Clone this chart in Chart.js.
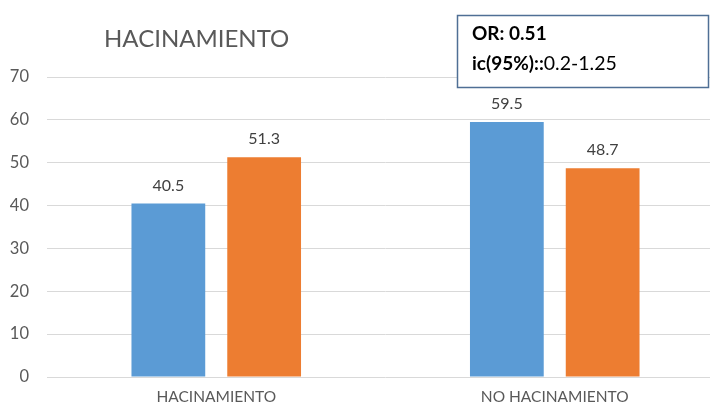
<!DOCTYPE html>
<html>
<head>
<meta charset="utf-8">
<script src="https://cdn.jsdelivr.net/npm/chart.js@4"></script>
<style>
  html, body { margin: 0; padding: 0; background: #fff; overflow: hidden; }
  #wrap { width: 710px; height: 407px; overflow: hidden; }
</style>
</head>
<body>
<div id="wrap"><canvas id="grafica" width="725" height="407"></canvas></div>
<script>
// datos
const categorias = ['HACINAMIENTO', 'NO HACINAMIENTO'];
const serieAzul = [40.5, 59.5];
const serieNaranja = [51.3, 48.7];
const tituloTexto = 'HACINAMIENTO';
const cuadroLinea1 = 'OR: 0.51';
const cuadroLinea2Negrita = 'ic(95%)::';
const cuadroLinea2 = '0.2-1.25';

const fuente = 'Lato, "Open Sans", sans-serif';

// etiquetas de valor encima de cada barra
const etiquetasValor = {
  id: 'etiquetasValor',
  afterDatasetsDraw(chart) {
    const ctx = chart.ctx;
    ctx.save();
    ctx.fillStyle = '#404040';
    ctx.font = '16px ' + fuente;
    ctx.textAlign = 'center';
    ctx.textBaseline = 'bottom';
    chart.data.datasets.forEach((ds, i) => {
      chart.getDatasetMeta(i).data.forEach((bar, j) => {
        ctx.fillText(ds.data[j].toFixed(1), bar.x, bar.y - 10);
      });
    });
    ctx.restore();
  }
};

// titulo y cuadro de OR
const decoracion = {
  id: 'decoracion',
  afterDraw(chart) {
    const ctx = chart.ctx;
    ctx.save();
    ctx.fillStyle = '#595959';
    ctx.font = '24px ' + fuente;
    ctx.textAlign = 'left';
    ctx.textBaseline = 'middle';
    ctx.fillText(tituloTexto, 104, 39);

    ctx.fillStyle = '#fff';
    ctx.fillRect(457.5, 15.5, 251, 72);
    ctx.strokeStyle = '#4f6f95';
    ctx.lineWidth = 1.5;
    ctx.strokeRect(457.5, 15.5, 251, 72);

    ctx.fillStyle = '#000';
    ctx.font = 'bold 19px ' + fuente;
    ctx.fillText(cuadroLinea1, 472, 34);
    ctx.fillText(cuadroLinea2Negrita, 472, 64);
    const w = ctx.measureText(cuadroLinea2Negrita).width;
    ctx.font = '19.5px ' + fuente;
    ctx.fillText(cuadroLinea2, 472 + w, 64);
    ctx.restore();
  }
};

new Chart(document.getElementById('grafica'), {
  type: 'bar',
  data: {
    labels: categorias,
    datasets: [
      { data: serieAzul, backgroundColor: '#5B9BD5', categoryPercentage: 0.566, barPercentage: 0.77 },
      { data: serieNaranja, backgroundColor: '#ED7D31', categoryPercentage: 0.566, barPercentage: 0.77 }
    ]
  },
  options: {
    responsive: false,
    animation: false,
    layout: { padding: { top: 77, right: 1, left: 0, bottom: 0 } },
    plugins: { legend: { display: false }, tooltip: { enabled: false }, title: { display: false } },
    scales: {
      x: {
        grid: { display: false, drawTicks: false },
        border: { display: false },
        ticks: { color: '#595959', font: { family: fuente, size: 15.5 }, padding: 11 },
        afterFit(axis) { axis.height = 30; }
      },
      y: {
        min: 0, max: 70,
        grid: { color: '#d9d9d9', drawTicks: false },
        border: { display: false },
        ticks: { stepSize: 10, color: '#595959', font: { family: fuente, size: 16.5 }, padding: 18 },
        afterFit(axis) { axis.width = 47; }
      }
    }
  },
  plugins: [etiquetasValor, decoracion]
});
</script>
</body>
</html>
